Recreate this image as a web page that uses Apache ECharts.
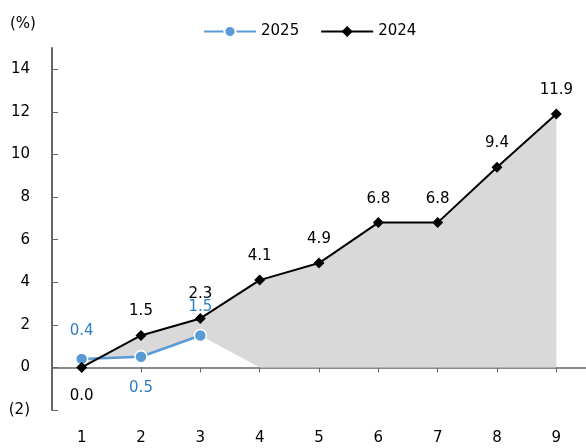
<!DOCTYPE html>
<html>
<head>
<meta charset="utf-8">
<script src="https://cdn.jsdelivr.net/npm/echarts@6/dist/echarts.min.js"></script>
<style>
  html, body { margin: 0; padding: 0; background: #fff; }
  #main { width: 586px; height: 448px; }
</style>
</head>
<body>
<div id="main"></div>
<script>
// 月份 (1-9)
const months = ['1', '2', '3', '4', '5', '6', '7', '8', '9'];
// 2024 累计
const values2024 = [0.0, 1.5, 2.3, 4.1, 4.9, 6.8, 6.8, 9.4, 11.9];
// 2025 累计
const values2025 = [0.4, 0.5, 1.5];
// 灰色区域下沿
const areaFloor = [0.4, 0.5, 1.5, 0, 0, 0, 0, 0, 0];
// y 轴刻度
const yTicks = [-2, 0, 2, 4, 6, 8, 10, 12, 14];

const FONT = 'DejaVu Sans';

// 灰色带 = 2024 - 下沿
const bandValues = values2024.map((v, i) => +(v - areaFloor[i]).toFixed(2));

const chart = echarts.init(document.getElementById('main'), null, { renderer: 'canvas' });

chart.setOption({
  backgroundColor: '#fff',
  animation: false,
  textStyle: { fontFamily: FONT },
  title: {
    text: '(%)',
    left: 5,
    top: 12,
    textStyle: { fontFamily: FONT, fontSize: 15, fontWeight: 'normal', color: '#000' }
  },
  legend: {
    left: 198,
    top: 19,
    itemWidth: 52,
    itemHeight: 14,
    itemGap: 21,
    data: ['2025', '2024'],
    textStyle: { fontFamily: FONT, fontSize: 15, color: '#000' }
  },
  grid: {
    left: 52,
    right: 0,
    top: 48,
    bottom: 38,
    containLabel: false,
    outerBoundsMode: 'none'
  },
  xAxis: {
    type: 'category',
    data: months,
    boundaryGap: true,
    axisLine: { onZero: true, lineStyle: { color: '#666', width: 1.5 } },
    axisTick: { show: true, alignWithLabel: true, length: 5, lineStyle: { color: '#666' } },
    axisLabel: { color: '#000', fontFamily: FONT, fontSize: 15, margin: 21 },
    splitLine: { show: false }
  },
  yAxis: {
    type: 'value',
    min: -2,
    max: 15,
    interval: 2,
    axisLine: { show: true, lineStyle: { color: '#666', width: 2 } },
    axisTick: { show: true, inside: true, length: 6, customValues: yTicks, lineStyle: { color: '#666' } },
    axisLabel: {
      customValues: yTicks,
      color: '#000',
      fontFamily: FONT,
      fontSize: 15,
      margin: 22,
      formatter: v => (v < 0 ? '(' + (-v) + ')' : String(v))
    },
    splitLine: { show: false }
  },
  series: [
    {
      name: 'floor',
      type: 'line',
      stack: 'band',
      stackStrategy: 'all',
      data: areaFloor,
      symbol: 'none',
      lineStyle: { width: 0, opacity: 0 },
      silent: true,
      z: 1
    },
    {
      name: 'band',
      type: 'line',
      stack: 'band',
      stackStrategy: 'all',
      data: bandValues,
      symbol: 'none',
      lineStyle: { width: 0, opacity: 0 },
      areaStyle: { color: '#d9d9d9', opacity: 1 },
      silent: true,
      z: 1
    },
    {
      name: '2025',
      type: 'line',
      data: values2025.map((v, i) => ({
        value: v,
        label: i === 1 ? { position: 'bottom', distance: 17 } : { position: 'top', distance: 14 }
      })),
      symbol: 'circle',
      symbolSize: 12,
      color: '#5b9bd5',
      lineStyle: { color: '#5b9bd5', width: 2.5 },
      itemStyle: { color: '#5b9bd5', borderColor: '#fff', borderWidth: 1.5 },
      label: {
        show: true,
        color: '#2f7fc4',
        fontFamily: FONT,
        fontSize: 15,
        formatter: p => p.value.toFixed(1)
      },
      z: 3
    },
    {
      name: '2024',
      type: 'line',
      data: values2024.map((v, i) => ({
        value: v,
        label: i === 0 ? { position: 'bottom', distance: 16 } : { position: 'top', distance: 11 }
      })),
      symbol: 'diamond',
      symbolSize: 11,
      color: '#000',
      lineStyle: { color: '#000', width: 2 },
      itemStyle: { color: '#000' },
      label: {
        show: true,
        color: '#000',
        fontFamily: FONT,
        fontSize: 15,
        formatter: p => p.value.toFixed(1)
      },
      z: 4
    }
  ]
});
</script>
</body>
</html>
